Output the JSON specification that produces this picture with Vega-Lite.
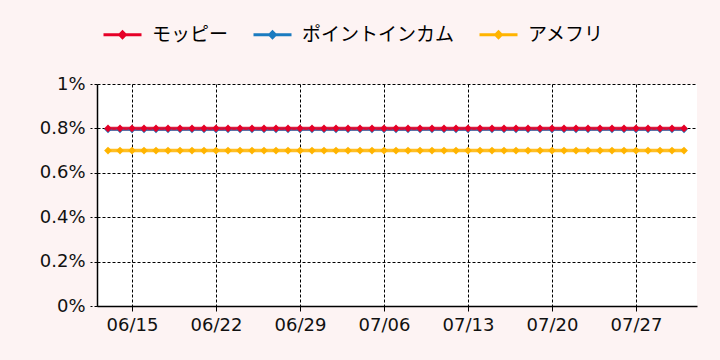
{
  "$schema": "https://vega.github.io/schema/vega-lite/v6.json",
  "width": 600,
  "height": 222,
  "autosize": {"type": "none"},
  "padding": {"left": 97, "top": 84, "right": 23, "bottom": 54},
  "background": "#fdf3f3",
  "view": {"fill": "white", "stroke": null},
  "data": {
    "values": [
      {"date": "2025/06/13", "p": 0.00796, "a": 0.007, "m": 0.008},
      {"date": "2025/06/14", "p": 0.00796, "a": 0.007, "m": 0.008},
      {"date": "2025/06/15", "p": 0.00796, "a": 0.007, "m": 0.008},
      {"date": "2025/06/16", "p": 0.00796, "a": 0.007, "m": 0.008},
      {"date": "2025/06/17", "p": 0.00796, "a": 0.007, "m": 0.008},
      {"date": "2025/06/18", "p": 0.00796, "a": 0.007, "m": 0.008},
      {"date": "2025/06/19", "p": 0.00796, "a": 0.007, "m": 0.008},
      {"date": "2025/06/20", "p": 0.00796, "a": 0.007, "m": 0.008},
      {"date": "2025/06/21", "p": 0.00796, "a": 0.007, "m": 0.008},
      {"date": "2025/06/22", "p": 0.00796, "a": 0.007, "m": 0.008},
      {"date": "2025/06/23", "p": 0.00796, "a": 0.007, "m": 0.008},
      {"date": "2025/06/24", "p": 0.00796, "a": 0.007, "m": 0.008},
      {"date": "2025/06/25", "p": 0.00796, "a": 0.007, "m": 0.008},
      {"date": "2025/06/26", "p": 0.00796, "a": 0.007, "m": 0.008},
      {"date": "2025/06/27", "p": 0.00796, "a": 0.007, "m": 0.008},
      {"date": "2025/06/28", "p": 0.00796, "a": 0.007, "m": 0.008},
      {"date": "2025/06/29", "p": 0.00796, "a": 0.007, "m": 0.008},
      {"date": "2025/06/30", "p": 0.00796, "a": 0.007, "m": 0.008},
      {"date": "2025/07/01", "p": 0.00796, "a": 0.007, "m": 0.008},
      {"date": "2025/07/02", "p": 0.00796, "a": 0.007, "m": 0.008},
      {"date": "2025/07/03", "p": 0.00796, "a": 0.007, "m": 0.008},
      {"date": "2025/07/04", "p": 0.00796, "a": 0.007, "m": 0.008},
      {"date": "2025/07/05", "p": 0.00796, "a": 0.007, "m": 0.008},
      {"date": "2025/07/06", "p": 0.00796, "a": 0.007, "m": 0.008},
      {"date": "2025/07/07", "p": 0.00796, "a": 0.007, "m": 0.008},
      {"date": "2025/07/08", "p": 0.00796, "a": 0.007, "m": 0.008},
      {"date": "2025/07/09", "p": 0.00796, "a": 0.007, "m": 0.008},
      {"date": "2025/07/10", "p": 0.00796, "a": 0.007, "m": 0.008},
      {"date": "2025/07/11", "p": 0.00796, "a": 0.007, "m": 0.008},
      {"date": "2025/07/12", "p": 0.00796, "a": 0.007, "m": 0.008},
      {"date": "2025/07/13", "p": 0.00796, "a": 0.007, "m": 0.008},
      {"date": "2025/07/14", "p": 0.00796, "a": 0.007, "m": 0.008},
      {"date": "2025/07/15", "p": 0.00796, "a": 0.007, "m": 0.008},
      {"date": "2025/07/16", "p": 0.00796, "a": 0.007, "m": 0.008},
      {"date": "2025/07/17", "p": 0.00796, "a": 0.007, "m": 0.008},
      {"date": "2025/07/18", "p": 0.00796, "a": 0.007, "m": 0.008},
      {"date": "2025/07/19", "p": 0.00796, "a": 0.007, "m": 0.008},
      {"date": "2025/07/20", "p": 0.00796, "a": 0.007, "m": 0.008},
      {"date": "2025/07/21", "p": 0.00796, "a": 0.007, "m": 0.008},
      {"date": "2025/07/22", "p": 0.00796, "a": 0.007, "m": 0.008},
      {"date": "2025/07/23", "p": 0.00796, "a": 0.007, "m": 0.008},
      {"date": "2025/07/24", "p": 0.00796, "a": 0.007, "m": 0.008},
      {"date": "2025/07/25", "p": 0.00796, "a": 0.007, "m": 0.008},
      {"date": "2025/07/26", "p": 0.00796, "a": 0.007, "m": 0.008},
      {"date": "2025/07/27", "p": 0.00796, "a": 0.007, "m": 0.008},
      {"date": "2025/07/28", "p": 0.00796, "a": 0.007, "m": 0.008},
      {"date": "2025/07/29", "p": 0.00796, "a": 0.007, "m": 0.008},
      {"date": "2025/07/30", "p": 0.00796, "a": 0.007, "m": 0.008},
      {"date": "2025/07/31", "p": 0.00796, "a": 0.007, "m": 0.008}
    ]
  },
  "transform": [
    {"fold": ["p", "a", "m"], "as": ["key", "value"]},
    {"lookup": "key", "from": {"data": {"values": [
      {"key": "m", "series": "モッピー"},
      {"key": "p", "series": "ポイントインカム"},
      {"key": "a", "series": "アメフリ"}
    ]}, "key": "key", "fields": ["series"]}}
  ],
  "mark": {
    "type": "line",
    "strokeWidth": 3.5,
    "strokeOpacity": 0.85,
    "point": {"shape": "diamond", "size": 60, "filled": true, "opacity": 1}
  },
  "encoding": {
    "x": {
      "field": "date",
      "type": "temporal",
      "title": null,
      "scale": {"domain": [
        {"year": 2025, "month": 6, "date": 12, "hours": 2},
        {"year": 2025, "month": 8, "date": 1, "hours": 2}
      ]},
      "axis": {
        "format": "%m/%d",
        "tickCount": {"interval": "week", "step": 1},
        "labelFont": "DejaVu Sans",
        "labelFontSize": 18,
        "labelColor": "#111111",
        "labelPadding": 5,
        "tickSize": 5,
        "tickColor": "black",
        "domainColor": "black",
        "domainWidth": 1.5,
        "gridColor": "black",
        "gridDash": [3, 2],
        "gridOpacity": 1,
        "labelFlush": false
      }
    },
    "y": {
      "field": "value",
      "type": "quantitative",
      "title": null,
      "scale": {"domain": [0, 0.01], "nice": false},
      "axis": {
        "values": [0, 0.002, 0.004, 0.006, 0.008, 0.01],
        "format": "~%",
        "labelFont": "DejaVu Sans",
        "labelFontSize": 18,
        "labelColor": "#111111",
        "labelPadding": 5,
        "tickSize": 7,
        "tickColor": "black",
        "tickDash": [3, 2],
        "domainColor": "black",
        "domainWidth": 1.5,
        "gridColor": "black",
        "gridDash": [3, 2],
        "gridOpacity": 1
      }
    },
    "color": {
      "field": "series",
      "type": "nominal",
      "scale": {
        "domain": ["モッピー", "ポイントインカム", "アメフリ"],
        "range": ["#e60027", "#1a7bc0", "#ffb400"]
      },
      "legend": {
        "title": null,
        "orient": "none",
        "direction": "horizontal",
        "legendX": 5,
        "legendY": -70,
        "symbolType": "M-1,0L1,0M-0.15,0L0,-0.15L0.15,0L0,0.15Z",
        "symbolSize": 1444,
        "symbolStrokeWidth": 3,
        "labelFont": "Noto Sans CJK JP",
        "labelFontSize": 19,
        "labelColor": "black",
        "labelOffset": 9,
        "columnPadding": 18
      }
    }
  }
}
